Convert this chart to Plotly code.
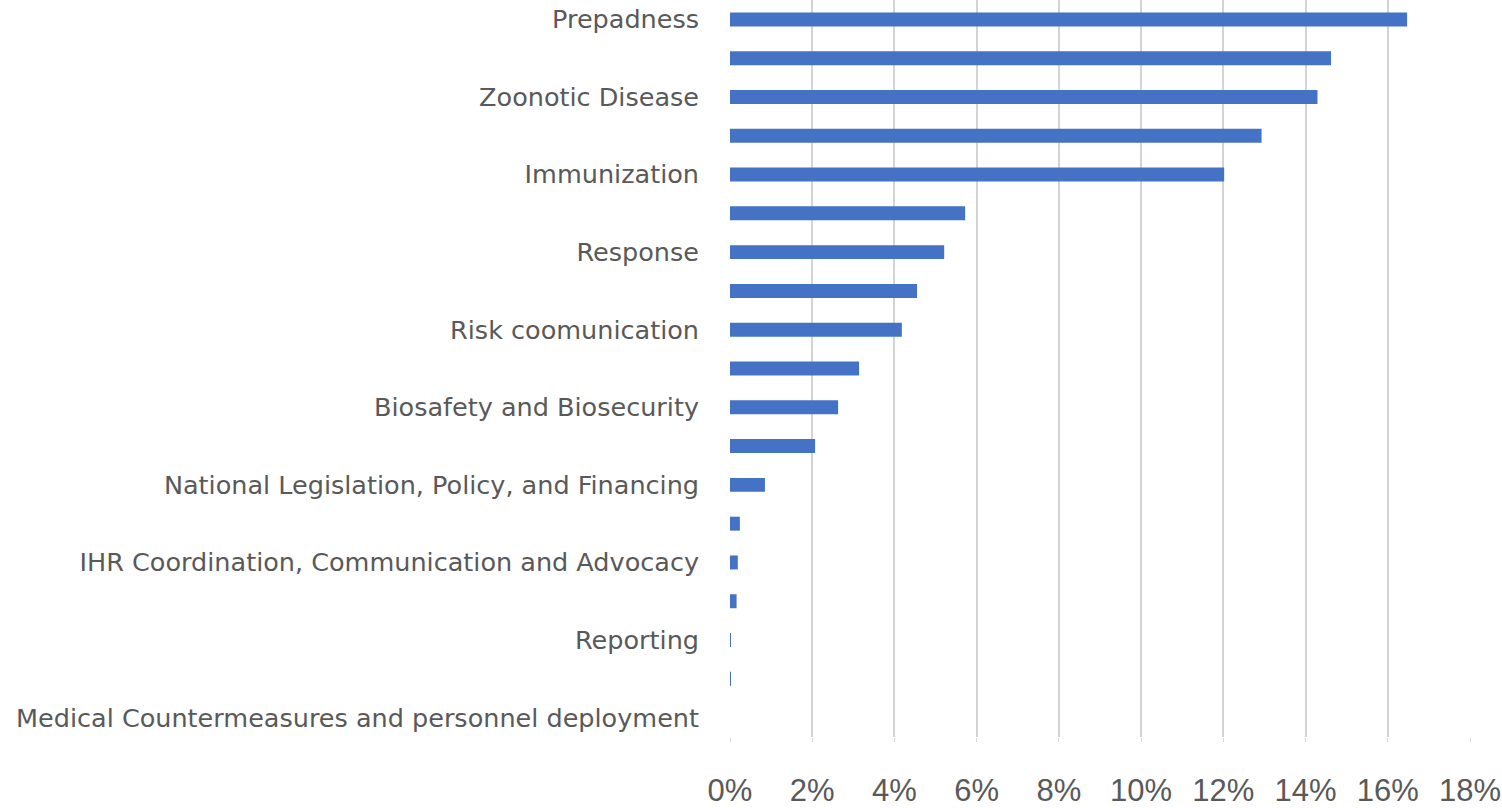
import plotly.graph_objects as go

# Categories from top to bottom
categories = [
    "Prepadness",
    "Real-Time Surveillance",
    "Zoonotic Disease",
    "National Laboratory System",
    "Immunization",
    "Workforce Development",
    "Response",
    "Antimicrobial Resistance",
    "Risk coomunication",
    "Food Safety",
    "Biosafety and Biosecurity",
    "Points of Entry",
    "National Legislation, Policy, and Financing",
    "Linking Public Health and Security Authorities",
    "IHR Coordination, Communication and Advocacy",
    "Chemical Events",
    "Reporting",
    "Radiation Emergencies",
    "Medical Countermeasures and personnel deployment",
]
values = [16.47, 14.62, 14.29, 12.93, 12.02, 5.72, 5.21, 4.55, 4.18, 3.14,
          2.63, 2.07, 0.85, 0.24, 0.19, 0.16, 0.02, 0.01, 0.0]
shown_labels = categories[::2]
x_ticks = [0, 2, 4, 6, 8, 10, 12, 14, 16, 18]
x_tick_text = [f"{t}%" for t in x_ticks]

fig = go.Figure(go.Bar(
    y=categories,
    x=values,
    orientation="h",
    marker=dict(color="#4472C4", line=dict(width=0)),
))

fig.update_layout(
    width=1502, height=808,
    margin=dict(l=730, r=32, t=0, b=66),
    paper_bgcolor="white", plot_bgcolor="white",
    bargap=0.64,
    showlegend=False,
    xaxis=dict(
        range=[0, 18], tickvals=x_ticks, ticktext=x_tick_text,
        showgrid=True, gridcolor="#d4d4d4", gridwidth=2,
        zeroline=False, showline=False,
        ticks="outside", ticklen=4, tickcolor="#d9d9d9", tickwidth=1,
        tickfont=dict(family="Liberation Sans, Arial", size=31, color="#595959"),
        ticklabelstandoff=22,
    ),
    yaxis=dict(
        categoryorder="array", categoryarray=categories[::-1],
        autorange=False, range=[-0.5, 18.5],
        tickmode="array", tickvals=shown_labels, ticktext=shown_labels,
        showgrid=False, zeroline=False, showline=False,
        ticks="", tickfont=dict(family="DejaVu Sans", size=25.5, color="#595959"),
        ticklabelstandoff=30,
    ),
)

fig.write_html("out.html")
